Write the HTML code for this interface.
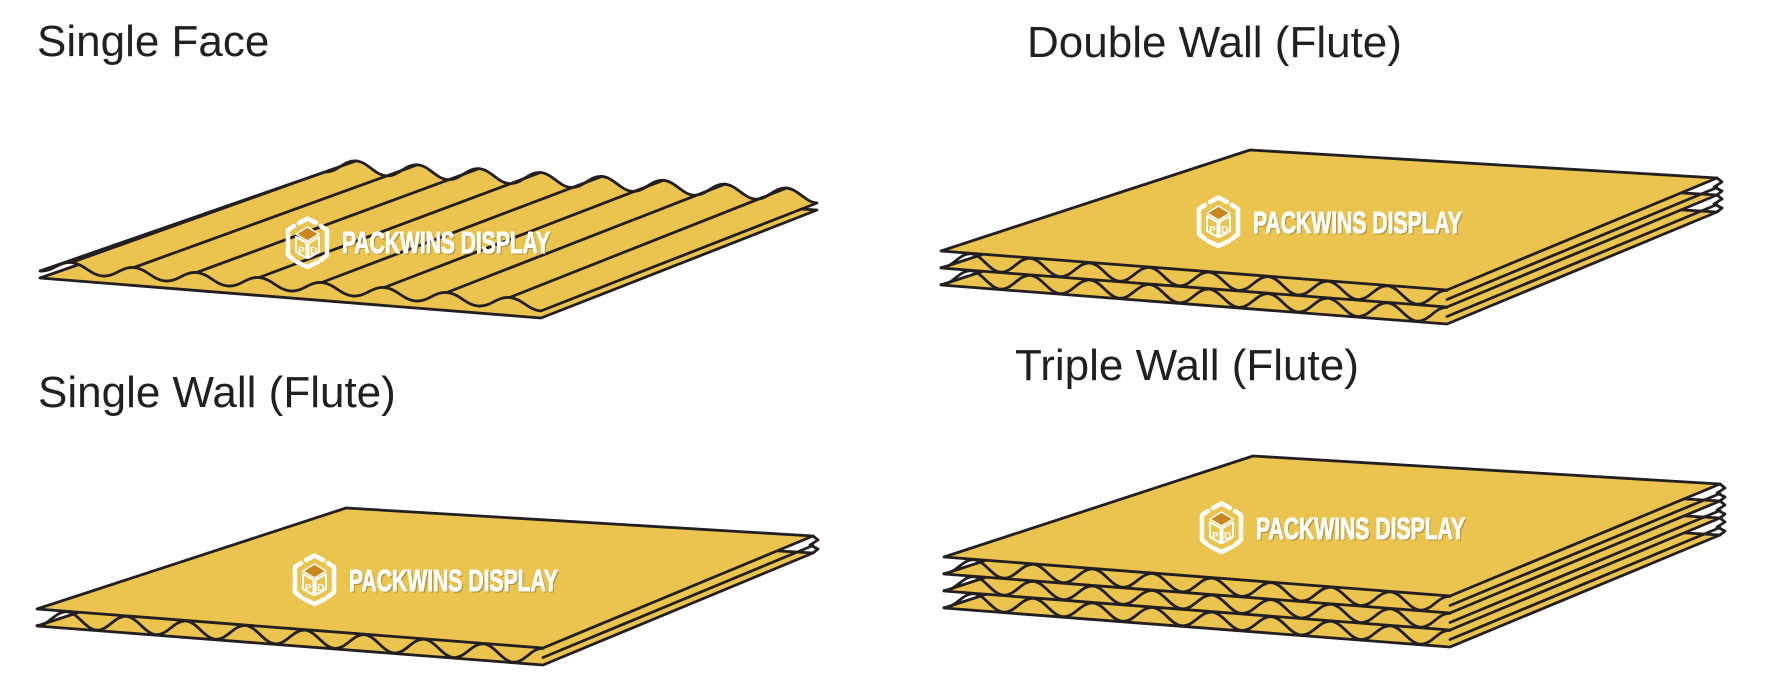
<!DOCTYPE html>
<html>
<head>
<meta charset="utf-8">
<style>
html,body{margin:0;padding:0;background:#fff;}
svg{display:block;}
.t{font-family:"Liberation Sans",Arial,sans-serif;font-size:44px;fill:#231F20;}
.wm{font-family:"Liberation Sans",Arial,sans-serif;font-weight:bold;font-size:31px;}
.wmw{stroke:#fff;stroke-width:0.9;}
</style>
</head>
<body>
<svg width="1776" height="696" viewBox="0 0 1776 696" xmlns="http://www.w3.org/2000/svg">
<rect width="1776" height="696" fill="#fff"/>

<!-- Titles -->
<text class="t" x="37" y="56">Single Face</text>
<text class="t" x="1027" y="57">Double Wall (Flute)</text>
<text class="t" x="38" y="407">Single Wall (Flute)</text>
<text class="t" x="1015" y="380">Triple Wall (Flute)</text>

<!-- ========== SINGLE FACE ========== -->
<g fill="#EBC44F" stroke="#231F20" stroke-width="2.8" stroke-linejoin="round" stroke-linecap="round">
  <polygon points="40,278 541,318 817,210 325,179"/>
  <path d="M40,271
    c12.5,1 18.8,-9.5 31.3,-8.5 c12.5,1 18.8,12.5 31.3,13.5
    c12.5,1 18.8,-9.5 31.3,-8.5 c12.5,1 18.8,12.5 31.3,13.5
    c12.5,1 18.8,-9.5 31.3,-8.5 c12.5,1 18.8,12.5 31.3,13.5
    c12.5,1 18.8,-9.5 31.3,-8.5 c12.5,1 18.8,12.5 31.3,13.5
    c12.5,1 18.8,-9.5 31.3,-8.5 c12.5,1 18.8,12.5 31.3,13.5
    c12.5,1 18.8,-9.5 31.3,-8.5 c12.5,1 18.8,12.5 31.3,13.5
    c12.5,1 18.8,-9.5 31.3,-8.5 c12.5,1 18.8,12.5 31.3,13.5
    c12.5,1 18.8,-9.5 31.3,-8.5 c12.5,1 18.8,12.5 31.3,13.5
    L817,203
    c-12,-0.76 -18.75,-14.18 -30.75,-14.94 c-12,-0.76 -18.75,11.82 -30.75,11.06
    c-12,-0.76 -18.75,-14.18 -30.75,-14.94 c-12,-0.76 -18.75,11.82 -30.75,11.06
    c-12,-0.76 -18.75,-14.18 -30.75,-14.94 c-12,-0.76 -18.75,11.82 -30.75,11.06
    c-12,-0.76 -18.75,-14.18 -30.75,-14.94 c-12,-0.76 -18.75,11.82 -30.75,11.06
    c-12,-0.76 -18.75,-14.18 -30.75,-14.94 c-12,-0.76 -18.75,11.82 -30.75,11.06
    c-12,-0.76 -18.75,-14.18 -30.75,-14.94 c-12,-0.76 -18.75,11.82 -30.75,11.06
    c-12,-0.76 -18.75,-14.18 -30.75,-14.94 c-12,-0.76 -18.75,11.82 -30.75,11.06
    c-12,-0.76 -18.75,-14.18 -30.75,-14.94 c-12,-0.76 -18.75,11.82 -30.75,11.06
    Z"/>
  <g fill="none">
    <line x1="71.3" y1="262.5" x2="355.8" y2="160.9"/>
    <line x1="133.9" y1="267.5" x2="417.3" y2="164.8"/>
    <line x1="196.5" y1="272.5" x2="478.8" y2="168.7"/>
    <line x1="259.1" y1="277.5" x2="540.3" y2="172.6"/>
    <line x1="321.7" y1="282.5" x2="601.8" y2="176.4"/>
    <line x1="384.3" y1="287.5" x2="663.3" y2="180.3"/>
    <line x1="446.9" y1="292.5" x2="724.8" y2="184.2"/>
    <line x1="509.5" y1="297.5" x2="786.3" y2="188.1"/>
  </g>
</g>
<g transform="translate(285,216)" fill="none" stroke="#fff" stroke-width="4.5" stroke-linejoin="round" stroke-linecap="round">
  <path d="M9,10 L3,14 L3,39 L9,44"/>
  <path d="M36,10 L42,14 L42,39 L36,44"/>
  <path d="M14,7 L22.5,2.5 L31,7"/>
  <path d="M12,46 L22.5,51 L33,46"/>
  <polygon points="11,18 22.5,11 34,18 22.5,25" fill="#C8861C" stroke-width="1.5"/>
  <polygon points="11,21 21.5,27 21.5,42 11,36" stroke-width="2"/>
  <polygon points="23.5,27 34,21 34,36 23.5,42" stroke-width="2"/>
  <text x="16.3" y="38" font-family="Liberation Sans, Arial, sans-serif" font-weight="bold" font-size="10" fill="#fff" stroke="none" text-anchor="middle">P</text>
  <text x="28.7" y="38" font-family="Liberation Sans, Arial, sans-serif" font-weight="bold" font-size="10" fill="#fff" stroke="none" text-anchor="middle">D</text>
</g>
<text class="wm" x="343.4" y="254.4" textLength="208" lengthAdjust="spacingAndGlyphs" fill="#8a7434" opacity="0.6">PACKWINS DISPLAY</text>
<text class="wm wmw" x="342" y="253" textLength="208" lengthAdjust="spacingAndGlyphs" fill="#fff">PACKWINS DISPLAY</text>

<!-- ========== SINGLE WALL ========== -->
<g transform="translate(37,609)">
  <g fill="#EBC44F" stroke="#231F20" stroke-width="2.8" stroke-linejoin="round" stroke-linecap="round">
    <polygon points="0,17 309,-84 776,-56 506,56"/>
    <path fill="none" d="M0,16.5 c11.5,0.89 18.26,-14.6 29.76,-13.71 c11.5,0.89 18.26,17.4 29.76,18.29 c11.5,0.89 18.26,-14.6 29.76,-13.71 c11.5,0.89 18.26,17.4 29.76,18.29 c11.5,0.89 18.26,-14.6 29.76,-13.71 c11.5,0.89 18.26,17.4 29.76,18.29 c11.5,0.89 18.26,-14.6 29.76,-13.71 c11.5,0.89 18.26,17.4 29.76,18.29 c11.5,0.89 18.26,-14.6 29.76,-13.71 c11.5,0.89 18.26,17.4 29.76,18.29 c11.5,0.89 18.26,-14.6 29.76,-13.71 c11.5,0.89 18.26,17.4 29.76,18.29 c11.5,0.89 18.26,-14.6 29.76,-13.71 c11.5,0.89 18.26,17.4 29.76,18.29 c11.5,0.89 18.26,-14.6 29.76,-13.71 c11.5,0.89 18.26,17.4 29.76,18.29 c11.5,0.89 18.26,-14.6 29.76,-13.71"/>
    <path fill="none" d="M506,48.5 L776,-63.5"/>
    <polygon points="0,0 309,-101 776,-73 506,39"/>
    <path fill="none" d="M776,-73 L781,-69 L773,-64 L781,-60 L776,-56"/>
  </g>
  <g transform="translate(255,-56)" fill="none" stroke="#fff" stroke-width="4.5" stroke-linejoin="round" stroke-linecap="round">
    <path d="M9,10 L3,14 L3,39 L9,44"/>
    <path d="M36,10 L42,14 L42,39 L36,44"/>
    <path d="M14,7 L22.5,2.5 L31,7"/>
    <path d="M12,46 L22.5,51 L33,46"/>
    <polygon points="11,18 22.5,11 34,18 22.5,25" fill="#C8861C" stroke-width="1.5"/>
    <polygon points="11,21 21.5,27 21.5,42 11,36" stroke-width="2"/>
    <polygon points="23.5,27 34,21 34,36 23.5,42" stroke-width="2"/>
    <text x="16.3" y="38" font-family="Liberation Sans, Arial, sans-serif" font-weight="bold" font-size="10" fill="#fff" stroke="none" text-anchor="middle">P</text>
    <text x="28.7" y="38" font-family="Liberation Sans, Arial, sans-serif" font-weight="bold" font-size="10" fill="#fff" stroke="none" text-anchor="middle">D</text>
  </g>
  <text class="wm" x="313.4" y="-16.6" textLength="209" lengthAdjust="spacingAndGlyphs" fill="#8a7434" opacity="0.6">PACKWINS DISPLAY</text>
  <text class="wm wmw" x="312" y="-18" textLength="209" lengthAdjust="spacingAndGlyphs" fill="#fff">PACKWINS DISPLAY</text>
</g>

<!-- ========== DOUBLE WALL ========== -->
<g transform="translate(941,251)">
  <g fill="#EBC44F" stroke="#231F20" stroke-width="2.8" stroke-linejoin="round" stroke-linecap="round">
    <polygon points="0,34 309,-67 776,-39 506,73"/>
    <path fill="none" d="M0,33.5 c11.5,0.89 18.26,-14.6 29.76,-13.71 c11.5,0.89 18.26,17.4 29.76,18.29 c11.5,0.89 18.26,-14.6 29.76,-13.71 c11.5,0.89 18.26,17.4 29.76,18.29 c11.5,0.89 18.26,-14.6 29.76,-13.71 c11.5,0.89 18.26,17.4 29.76,18.29 c11.5,0.89 18.26,-14.6 29.76,-13.71 c11.5,0.89 18.26,17.4 29.76,18.29 c11.5,0.89 18.26,-14.6 29.76,-13.71 c11.5,0.89 18.26,17.4 29.76,18.29 c11.5,0.89 18.26,-14.6 29.76,-13.71 c11.5,0.89 18.26,17.4 29.76,18.29 c11.5,0.89 18.26,-14.6 29.76,-13.71 c11.5,0.89 18.26,17.4 29.76,18.29 c11.5,0.89 18.26,-14.6 29.76,-13.71 c11.5,0.89 18.26,17.4 29.76,18.29 c11.5,0.89 18.26,-14.6 29.76,-13.71"/>
    <path fill="none" d="M506,65.5 L776,-46.5"/>
    <polygon points="0,17 309,-84 776,-56 506,56"/>
    <path fill="none" d="M0,16.5 c11.5,0.89 18.26,-14.6 29.76,-13.71 c11.5,0.89 18.26,17.4 29.76,18.29 c11.5,0.89 18.26,-14.6 29.76,-13.71 c11.5,0.89 18.26,17.4 29.76,18.29 c11.5,0.89 18.26,-14.6 29.76,-13.71 c11.5,0.89 18.26,17.4 29.76,18.29 c11.5,0.89 18.26,-14.6 29.76,-13.71 c11.5,0.89 18.26,17.4 29.76,18.29 c11.5,0.89 18.26,-14.6 29.76,-13.71 c11.5,0.89 18.26,17.4 29.76,18.29 c11.5,0.89 18.26,-14.6 29.76,-13.71 c11.5,0.89 18.26,17.4 29.76,18.29 c11.5,0.89 18.26,-14.6 29.76,-13.71 c11.5,0.89 18.26,17.4 29.76,18.29 c11.5,0.89 18.26,-14.6 29.76,-13.71 c11.5,0.89 18.26,17.4 29.76,18.29 c11.5,0.89 18.26,-14.6 29.76,-13.71"/>
    <path fill="none" d="M506,48.5 L776,-63.5"/>
    <polygon points="0,0 309,-101 776,-73 506,39"/>
    <path fill="none" d="M776,-73 L781,-69 L773,-64 L781,-60 L776,-56 L781,-52 L773,-47 L781,-43 L776,-39"/>
  </g>
  <g transform="translate(255,-56)" fill="none" stroke="#fff" stroke-width="4.5" stroke-linejoin="round" stroke-linecap="round">
    <path d="M9,10 L3,14 L3,39 L9,44"/>
    <path d="M36,10 L42,14 L42,39 L36,44"/>
    <path d="M14,7 L22.5,2.5 L31,7"/>
    <path d="M12,46 L22.5,51 L33,46"/>
    <polygon points="11,18 22.5,11 34,18 22.5,25" fill="#C8861C" stroke-width="1.5"/>
    <polygon points="11,21 21.5,27 21.5,42 11,36" stroke-width="2"/>
    <polygon points="23.5,27 34,21 34,36 23.5,42" stroke-width="2"/>
    <text x="16.3" y="38" font-family="Liberation Sans, Arial, sans-serif" font-weight="bold" font-size="10" fill="#fff" stroke="none" text-anchor="middle">P</text>
    <text x="28.7" y="38" font-family="Liberation Sans, Arial, sans-serif" font-weight="bold" font-size="10" fill="#fff" stroke="none" text-anchor="middle">D</text>
  </g>
  <text class="wm" x="313.4" y="-16.6" textLength="209" lengthAdjust="spacingAndGlyphs" fill="#8a7434" opacity="0.6">PACKWINS DISPLAY</text>
  <text class="wm wmw" x="312" y="-18" textLength="209" lengthAdjust="spacingAndGlyphs" fill="#fff">PACKWINS DISPLAY</text>
</g>

<!-- ========== TRIPLE WALL ========== -->
<g transform="translate(944,557)">
  <g fill="#EBC44F" stroke="#231F20" stroke-width="2.8" stroke-linejoin="round" stroke-linecap="round">
    <polygon points="0,51 309,-50 776,-22 506,90"/>
    <path fill="none" d="M0,50.5 c11.5,0.89 18.26,-14.6 29.76,-13.71 c11.5,0.89 18.26,17.4 29.76,18.29 c11.5,0.89 18.26,-14.6 29.76,-13.71 c11.5,0.89 18.26,17.4 29.76,18.29 c11.5,0.89 18.26,-14.6 29.76,-13.71 c11.5,0.89 18.26,17.4 29.76,18.29 c11.5,0.89 18.26,-14.6 29.76,-13.71 c11.5,0.89 18.26,17.4 29.76,18.29 c11.5,0.89 18.26,-14.6 29.76,-13.71 c11.5,0.89 18.26,17.4 29.76,18.29 c11.5,0.89 18.26,-14.6 29.76,-13.71 c11.5,0.89 18.26,17.4 29.76,18.29 c11.5,0.89 18.26,-14.6 29.76,-13.71 c11.5,0.89 18.26,17.4 29.76,18.29 c11.5,0.89 18.26,-14.6 29.76,-13.71 c11.5,0.89 18.26,17.4 29.76,18.29 c11.5,0.89 18.26,-14.6 29.76,-13.71"/>
    <path fill="none" d="M506,82.5 L776,-29.5"/>
    <polygon points="0,34 309,-67 776,-39 506,73"/>
    <path fill="none" d="M0,33.5 c11.5,0.89 18.26,-14.6 29.76,-13.71 c11.5,0.89 18.26,17.4 29.76,18.29 c11.5,0.89 18.26,-14.6 29.76,-13.71 c11.5,0.89 18.26,17.4 29.76,18.29 c11.5,0.89 18.26,-14.6 29.76,-13.71 c11.5,0.89 18.26,17.4 29.76,18.29 c11.5,0.89 18.26,-14.6 29.76,-13.71 c11.5,0.89 18.26,17.4 29.76,18.29 c11.5,0.89 18.26,-14.6 29.76,-13.71 c11.5,0.89 18.26,17.4 29.76,18.29 c11.5,0.89 18.26,-14.6 29.76,-13.71 c11.5,0.89 18.26,17.4 29.76,18.29 c11.5,0.89 18.26,-14.6 29.76,-13.71 c11.5,0.89 18.26,17.4 29.76,18.29 c11.5,0.89 18.26,-14.6 29.76,-13.71 c11.5,0.89 18.26,17.4 29.76,18.29 c11.5,0.89 18.26,-14.6 29.76,-13.71"/>
    <path fill="none" d="M506,65.5 L776,-46.5"/>
    <polygon points="0,17 309,-84 776,-56 506,56"/>
    <path fill="none" d="M0,16.5 c11.5,0.89 18.26,-14.6 29.76,-13.71 c11.5,0.89 18.26,17.4 29.76,18.29 c11.5,0.89 18.26,-14.6 29.76,-13.71 c11.5,0.89 18.26,17.4 29.76,18.29 c11.5,0.89 18.26,-14.6 29.76,-13.71 c11.5,0.89 18.26,17.4 29.76,18.29 c11.5,0.89 18.26,-14.6 29.76,-13.71 c11.5,0.89 18.26,17.4 29.76,18.29 c11.5,0.89 18.26,-14.6 29.76,-13.71 c11.5,0.89 18.26,17.4 29.76,18.29 c11.5,0.89 18.26,-14.6 29.76,-13.71 c11.5,0.89 18.26,17.4 29.76,18.29 c11.5,0.89 18.26,-14.6 29.76,-13.71 c11.5,0.89 18.26,17.4 29.76,18.29 c11.5,0.89 18.26,-14.6 29.76,-13.71 c11.5,0.89 18.26,17.4 29.76,18.29 c11.5,0.89 18.26,-14.6 29.76,-13.71"/>
    <path fill="none" d="M506,48.5 L776,-63.5"/>
    <polygon points="0,0 309,-101 776,-73 506,39"/>
    <path fill="none" d="M776,-73 L781,-69 L773,-64 L781,-60 L776,-56 L781,-52 L773,-47 L781,-43 L776,-39 L781,-35 L773,-30 L781,-26 L776,-22"/>
  </g>
  <g transform="translate(255,-56)" fill="none" stroke="#fff" stroke-width="4.5" stroke-linejoin="round" stroke-linecap="round">
    <path d="M9,10 L3,14 L3,39 L9,44"/>
    <path d="M36,10 L42,14 L42,39 L36,44"/>
    <path d="M14,7 L22.5,2.5 L31,7"/>
    <path d="M12,46 L22.5,51 L33,46"/>
    <polygon points="11,18 22.5,11 34,18 22.5,25" fill="#C8861C" stroke-width="1.5"/>
    <polygon points="11,21 21.5,27 21.5,42 11,36" stroke-width="2"/>
    <polygon points="23.5,27 34,21 34,36 23.5,42" stroke-width="2"/>
    <text x="16.3" y="38" font-family="Liberation Sans, Arial, sans-serif" font-weight="bold" font-size="10" fill="#fff" stroke="none" text-anchor="middle">P</text>
    <text x="28.7" y="38" font-family="Liberation Sans, Arial, sans-serif" font-weight="bold" font-size="10" fill="#fff" stroke="none" text-anchor="middle">D</text>
  </g>
  <text class="wm" x="313.4" y="-16.6" textLength="209" lengthAdjust="spacingAndGlyphs" fill="#8a7434" opacity="0.6">PACKWINS DISPLAY</text>
  <text class="wm wmw" x="312" y="-18" textLength="209" lengthAdjust="spacingAndGlyphs" fill="#fff">PACKWINS DISPLAY</text>
</g>
</svg>
</body>
</html>
